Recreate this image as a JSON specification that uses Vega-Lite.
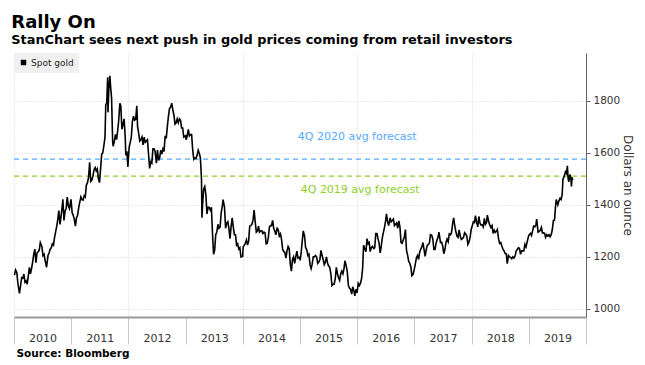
{
"$schema": "https://vega.github.io/schema/vega-lite/v6.json",
"autosize": {"type": "none"},
"padding": {"left": 14, "top": 53, "right": 59, "bottom": 48},
"width": 572,
"height": 264,
"config": {"font": "DejaVu Sans", "view": {"stroke": null}},
"title": {"text": "Rally On", "subtitle": "StanChart sees next push in gold prices coming from retail investors", "anchor": "start", "fontSize": 18, "fontWeight": "bold", "color": "#000", "subtitleFontSize": 12.9, "subtitleFontWeight": "bold", "subtitleColor": "#000", "offset": 6, "subtitlePadding": 2},
"datasets": {
"gold": [
{"d":"2010-01-04","v":1130},{"d":"2010-01-11","v":1150},{"d":"2010-01-19","v":1140},{"d":"2010-01-26","v":1097},{"d":"2010-02-05","v":1060},{"d":"2010-02-12","v":1090},{"d":"2010-02-19","v":1120},{"d":"2010-02-26","v":1118},{"d":"2010-03-05","v":1134},{"d":"2010-03-12","v":1103},{"d":"2010-03-19","v":1108},{"d":"2010-03-26","v":1095},{"d":"2010-04-02","v":1125},{"d":"2010-04-09","v":1160},{"d":"2010-04-16","v":1135},{"d":"2010-04-23","v":1155},{"d":"2010-04-30","v":1180},{"d":"2010-05-07","v":1210},{"d":"2010-05-14","v":1230},{"d":"2010-05-21","v":1178},{"d":"2010-05-28","v":1215},{"d":"2010-06-04","v":1220},{"d":"2010-06-11","v":1225},{"d":"2010-06-18","v":1255},{"d":"2010-06-28","v":1240},{"d":"2010-07-05","v":1205},{"d":"2010-07-12","v":1210},{"d":"2010-07-19","v":1185},{"d":"2010-07-28","v":1160},{"d":"2010-08-06","v":1205},{"d":"2010-08-13","v":1215},{"d":"2010-08-20","v":1230},{"d":"2010-08-27","v":1235},{"d":"2010-09-03","v":1250},{"d":"2010-09-10","v":1245},{"d":"2010-09-17","v":1275},{"d":"2010-09-24","v":1297},{"d":"2010-10-01","v":1318},{"d":"2010-10-08","v":1345},{"d":"2010-10-14","v":1378},{"d":"2010-10-22","v":1325},{"d":"2010-10-29","v":1358},{"d":"2010-11-05","v":1395},{"d":"2010-11-09","v":1421},{"d":"2010-11-16","v":1340},{"d":"2010-11-23","v":1375},{"d":"2010-11-30","v":1386},{"d":"2010-12-07","v":1430},{"d":"2010-12-14","v":1395},{"d":"2010-12-21","v":1385},{"d":"2010-12-31","v":1421},
{"d":"2011-01-07","v":1370},{"d":"2011-01-14","v":1360},{"d":"2011-01-21","v":1345},{"d":"2011-01-28","v":1318},{"d":"2011-02-04","v":1350},{"d":"2011-02-11","v":1360},{"d":"2011-02-18","v":1388},{"d":"2011-02-25","v":1410},{"d":"2011-03-04","v":1430},{"d":"2011-03-11","v":1420},{"d":"2011-03-18","v":1418},{"d":"2011-03-25","v":1435},{"d":"2011-04-01","v":1430},{"d":"2011-04-08","v":1475},{"d":"2011-04-15","v":1485},{"d":"2011-04-22","v":1505},{"d":"2011-04-29","v":1563},{"d":"2011-05-06","v":1490},{"d":"2011-05-13","v":1495},{"d":"2011-05-20","v":1510},{"d":"2011-05-27","v":1535},{"d":"2011-06-03","v":1543},{"d":"2011-06-10","v":1530},{"d":"2011-06-17","v":1538},{"d":"2011-06-24","v":1500},{"d":"2011-07-01","v":1485},{"d":"2011-07-08","v":1540},{"d":"2011-07-15","v":1595},{"d":"2011-07-22","v":1600},{"d":"2011-07-29","v":1628},{"d":"2011-08-05","v":1660},{"d":"2011-08-10","v":1785},{"d":"2011-08-16","v":1790},{"d":"2011-08-22","v":1890},{"d":"2011-08-24","v":1755},{"d":"2011-08-29","v":1835},{"d":"2011-09-05","v":1895},{"d":"2011-09-09","v":1860},{"d":"2011-09-16","v":1810},{"d":"2011-09-23","v":1640},{"d":"2011-09-26","v":1625},{"d":"2011-10-04","v":1645},{"d":"2011-10-11","v":1670},{"d":"2011-10-18","v":1650},{"d":"2011-10-24","v":1680},{"d":"2011-10-31","v":1720},{"d":"2011-11-08","v":1790},{"d":"2011-11-14","v":1780},{"d":"2011-11-21","v":1690},{"d":"2011-11-28","v":1710},{"d":"2011-12-05","v":1730},{"d":"2011-12-12","v":1660},{"d":"2011-12-16","v":1590},{"d":"2011-12-23","v":1605},{"d":"2011-12-29","v":1545},
{"d":"2012-01-06","v":1620},{"d":"2012-01-13","v":1640},{"d":"2012-01-20","v":1660},{"d":"2012-01-27","v":1720},{"d":"2012-02-03","v":1740},{"d":"2012-02-10","v":1725},{"d":"2012-02-17","v":1728},{"d":"2012-02-24","v":1780},{"d":"2012-02-29","v":1700},{"d":"2012-03-07","v":1675},{"d":"2012-03-14","v":1645},{"d":"2012-03-21","v":1650},{"d":"2012-03-28","v":1660},{"d":"2012-04-04","v":1630},{"d":"2012-04-11","v":1660},{"d":"2012-04-18","v":1640},{"d":"2012-04-25","v":1645},{"d":"2012-05-02","v":1650},{"d":"2012-05-09","v":1595},{"d":"2012-05-16","v":1540},{"d":"2012-05-23","v":1565},{"d":"2012-05-30","v":1560},{"d":"2012-06-06","v":1615},{"d":"2012-06-13","v":1615},{"d":"2012-06-20","v":1605},{"d":"2012-06-28","v":1560},{"d":"2012-07-05","v":1610},{"d":"2012-07-12","v":1570},{"d":"2012-07-19","v":1580},{"d":"2012-07-26","v":1610},{"d":"2012-08-02","v":1595},{"d":"2012-08-09","v":1615},{"d":"2012-08-16","v":1605},{"d":"2012-08-23","v":1665},{"d":"2012-08-30","v":1655},{"d":"2012-09-06","v":1700},{"d":"2012-09-13","v":1740},{"d":"2012-09-20","v":1770},{"d":"2012-09-27","v":1775},{"d":"2012-10-04","v":1790},{"d":"2012-10-11","v":1765},{"d":"2012-10-18","v":1745},{"d":"2012-10-25","v":1710},{"d":"2012-11-01","v":1715},{"d":"2012-11-08","v":1730},{"d":"2012-11-15","v":1715},{"d":"2012-11-22","v":1730},{"d":"2012-11-29","v":1725},{"d":"2012-12-06","v":1695},{"d":"2012-12-13","v":1695},{"d":"2012-12-20","v":1660},{"d":"2012-12-31","v":1665},
{"d":"2013-01-04","v":1650},{"d":"2013-01-11","v":1665},{"d":"2013-01-18","v":1690},{"d":"2013-01-25","v":1665},{"d":"2013-02-01","v":1670},{"d":"2013-02-08","v":1670},{"d":"2013-02-15","v":1610},{"d":"2013-02-22","v":1575},{"d":"2013-03-01","v":1580},{"d":"2013-03-08","v":1578},{"d":"2013-03-15","v":1590},{"d":"2013-03-22","v":1610},{"d":"2013-03-29","v":1598},{"d":"2013-04-05","v":1580},{"d":"2013-04-12","v":1500},{"d":"2013-04-15","v":1350},{"d":"2013-04-19","v":1400},{"d":"2013-04-26","v":1460},{"d":"2013-05-03","v":1470},{"d":"2013-05-10","v":1440},{"d":"2013-05-17","v":1365},{"d":"2013-05-24","v":1390},{"d":"2013-05-31","v":1390},{"d":"2013-06-07","v":1380},{"d":"2013-06-14","v":1390},{"d":"2013-06-21","v":1295},{"d":"2013-06-28","v":1210},{"d":"2013-07-05","v":1225},{"d":"2013-07-12","v":1285},{"d":"2013-07-19","v":1295},{"d":"2013-07-26","v":1325},{"d":"2013-08-02","v":1310},{"d":"2013-08-09","v":1315},{"d":"2013-08-16","v":1370},{"d":"2013-08-23","v":1395},{"d":"2013-08-28","v":1420},{"d":"2013-09-06","v":1390},{"d":"2013-09-13","v":1310},{"d":"2013-09-20","v":1330},{"d":"2013-09-27","v":1335},{"d":"2013-10-04","v":1310},{"d":"2013-10-11","v":1270},{"d":"2013-10-18","v":1315},{"d":"2013-10-25","v":1350},{"d":"2013-11-01","v":1315},{"d":"2013-11-08","v":1285},{"d":"2013-11-15","v":1285},{"d":"2013-11-22","v":1245},{"d":"2013-11-29","v":1250},{"d":"2013-12-06","v":1230},{"d":"2013-12-13","v":1235},{"d":"2013-12-20","v":1200},{"d":"2013-12-31","v":1202},
{"d":"2014-01-03","v":1238},{"d":"2014-01-10","v":1245},{"d":"2014-01-17","v":1252},{"d":"2014-01-24","v":1265},{"d":"2014-01-31","v":1245},{"d":"2014-02-07","v":1260},{"d":"2014-02-14","v":1318},{"d":"2014-02-21","v":1320},{"d":"2014-02-28","v":1325},{"d":"2014-03-07","v":1340},{"d":"2014-03-14","v":1380},{"d":"2014-03-21","v":1335},{"d":"2014-03-28","v":1295},{"d":"2014-04-04","v":1300},{"d":"2014-04-11","v":1318},{"d":"2014-04-17","v":1295},{"d":"2014-04-25","v":1300},{"d":"2014-05-02","v":1300},{"d":"2014-05-09","v":1290},{"d":"2014-05-16","v":1295},{"d":"2014-05-23","v":1292},{"d":"2014-05-30","v":1250},{"d":"2014-06-06","v":1252},{"d":"2014-06-13","v":1275},{"d":"2014-06-20","v":1315},{"d":"2014-06-27","v":1320},{"d":"2014-07-03","v":1320},{"d":"2014-07-10","v":1340},{"d":"2014-07-17","v":1310},{"d":"2014-07-24","v":1300},{"d":"2014-07-31","v":1285},{"d":"2014-08-08","v":1310},{"d":"2014-08-15","v":1305},{"d":"2014-08-22","v":1280},{"d":"2014-08-29","v":1288},{"d":"2014-09-05","v":1268},{"d":"2014-09-12","v":1230},{"d":"2014-09-19","v":1220},{"d":"2014-09-26","v":1218},{"d":"2014-10-03","v":1195},{"d":"2014-10-10","v":1222},{"d":"2014-10-17","v":1240},{"d":"2014-10-24","v":1232},{"d":"2014-10-31","v":1172},{"d":"2014-11-07","v":1145},{"d":"2014-11-14","v":1190},{"d":"2014-11-21","v":1200},{"d":"2014-11-28","v":1175},{"d":"2014-12-05","v":1200},{"d":"2014-12-12","v":1222},{"d":"2014-12-19","v":1195},{"d":"2014-12-31","v":1199},
{"d":"2015-01-02","v":1186},{"d":"2015-01-09","v":1220},{"d":"2015-01-16","v":1265},{"d":"2015-01-22","v":1300},{"d":"2015-01-30","v":1280},{"d":"2015-02-06","v":1235},{"d":"2015-02-13","v":1228},{"d":"2015-02-20","v":1205},{"d":"2015-02-27","v":1210},{"d":"2015-03-06","v":1170},{"d":"2015-03-13","v":1155},{"d":"2015-03-19","v":1170},{"d":"2015-03-27","v":1200},{"d":"2015-04-02","v":1200},{"d":"2015-04-10","v":1205},{"d":"2015-04-17","v":1200},{"d":"2015-04-24","v":1175},{"d":"2015-05-01","v":1180},{"d":"2015-05-08","v":1190},{"d":"2015-05-15","v":1225},{"d":"2015-05-22","v":1205},{"d":"2015-05-29","v":1190},{"d":"2015-06-05","v":1170},{"d":"2015-06-12","v":1180},{"d":"2015-06-19","v":1200},{"d":"2015-06-26","v":1175},{"d":"2015-07-03","v":1165},{"d":"2015-07-10","v":1160},{"d":"2015-07-17","v":1135},{"d":"2015-07-24","v":1090},{"d":"2015-07-31","v":1095},{"d":"2015-08-07","v":1095},{"d":"2015-08-14","v":1115},{"d":"2015-08-21","v":1160},{"d":"2015-08-28","v":1135},{"d":"2015-09-04","v":1120},{"d":"2015-09-11","v":1110},{"d":"2015-09-18","v":1135},{"d":"2015-09-25","v":1145},{"d":"2015-10-02","v":1135},{"d":"2015-10-09","v":1155},{"d":"2015-10-15","v":1185},{"d":"2015-10-23","v":1165},{"d":"2015-10-30","v":1142},{"d":"2015-11-06","v":1090},{"d":"2015-11-13","v":1080},{"d":"2015-11-20","v":1075},{"d":"2015-11-27","v":1057},{"d":"2015-12-04","v":1085},{"d":"2015-12-11","v":1070},{"d":"2015-12-17","v":1050},{"d":"2015-12-24","v":1075},{"d":"2015-12-31","v":1062},
{"d":"2016-01-08","v":1098},{"d":"2016-01-15","v":1090},{"d":"2016-01-22","v":1098},{"d":"2016-01-29","v":1116},{"d":"2016-02-05","v":1157},{"d":"2016-02-11","v":1245},{"d":"2016-02-19","v":1230},{"d":"2016-02-26","v":1220},{"d":"2016-03-04","v":1270},{"d":"2016-03-11","v":1250},{"d":"2016-03-18","v":1255},{"d":"2016-03-24","v":1220},{"d":"2016-03-31","v":1235},{"d":"2016-04-08","v":1240},{"d":"2016-04-15","v":1232},{"d":"2016-04-22","v":1235},{"d":"2016-04-29","v":1290},{"d":"2016-05-06","v":1290},{"d":"2016-05-13","v":1270},{"d":"2016-05-20","v":1252},{"d":"2016-05-27","v":1215},{"d":"2016-06-03","v":1242},{"d":"2016-06-10","v":1275},{"d":"2016-06-17","v":1295},{"d":"2016-06-24","v":1315},{"d":"2016-07-01","v":1340},{"d":"2016-07-06","v":1365},{"d":"2016-07-13","v":1335},{"d":"2016-07-20","v":1320},{"d":"2016-07-29","v":1350},{"d":"2016-08-05","v":1335},{"d":"2016-08-12","v":1340},{"d":"2016-08-19","v":1345},{"d":"2016-08-26","v":1320},{"d":"2016-09-02","v":1325},{"d":"2016-09-09","v":1330},{"d":"2016-09-16","v":1310},{"d":"2016-09-23","v":1338},{"d":"2016-09-30","v":1315},{"d":"2016-10-07","v":1255},{"d":"2016-10-14","v":1252},{"d":"2016-10-21","v":1265},{"d":"2016-10-28","v":1275},{"d":"2016-11-04","v":1305},{"d":"2016-11-11","v":1225},{"d":"2016-11-18","v":1207},{"d":"2016-11-25","v":1183},{"d":"2016-12-02","v":1175},{"d":"2016-12-09","v":1160},{"d":"2016-12-15","v":1128},{"d":"2016-12-23","v":1133},{"d":"2016-12-30","v":1150},
{"d":"2017-01-06","v":1172},{"d":"2017-01-13","v":1196},{"d":"2017-01-20","v":1205},{"d":"2017-01-27","v":1190},{"d":"2017-02-03","v":1218},{"d":"2017-02-10","v":1230},{"d":"2017-02-17","v":1238},{"d":"2017-02-24","v":1255},{"d":"2017-03-03","v":1228},{"d":"2017-03-10","v":1202},{"d":"2017-03-17","v":1228},{"d":"2017-03-24","v":1245},{"d":"2017-03-31","v":1248},{"d":"2017-04-07","v":1255},{"d":"2017-04-13","v":1285},{"d":"2017-04-21","v":1283},{"d":"2017-04-28","v":1268},{"d":"2017-05-05","v":1228},{"d":"2017-05-12","v":1228},{"d":"2017-05-19","v":1253},{"d":"2017-05-26","v":1267},{"d":"2017-06-02","v":1280},{"d":"2017-06-06","v":1295},{"d":"2017-06-16","v":1255},{"d":"2017-06-23","v":1256},{"d":"2017-06-30","v":1242},{"d":"2017-07-07","v":1212},{"d":"2017-07-14","v":1228},{"d":"2017-07-21","v":1255},{"d":"2017-07-28","v":1268},{"d":"2017-08-04","v":1258},{"d":"2017-08-11","v":1288},{"d":"2017-08-18","v":1285},{"d":"2017-08-25","v":1292},{"d":"2017-09-01","v":1325},{"d":"2017-09-08","v":1350},{"d":"2017-09-15","v":1320},{"d":"2017-09-22","v":1297},{"d":"2017-09-29","v":1280},{"d":"2017-10-06","v":1275},{"d":"2017-10-13","v":1304},{"d":"2017-10-20","v":1280},{"d":"2017-10-27","v":1267},{"d":"2017-11-03","v":1270},{"d":"2017-11-10","v":1275},{"d":"2017-11-17","v":1293},{"d":"2017-11-24","v":1288},{"d":"2017-12-01","v":1280},{"d":"2017-12-08","v":1248},{"d":"2017-12-15","v":1257},{"d":"2017-12-22","v":1275},{"d":"2017-12-29","v":1305},
{"d":"2018-01-05","v":1320},{"d":"2018-01-12","v":1335},{"d":"2018-01-19","v":1332},{"d":"2018-01-25","v":1358},{"d":"2018-02-02","v":1333},{"d":"2018-02-09","v":1315},{"d":"2018-02-16","v":1355},{"d":"2018-02-23","v":1330},{"d":"2018-03-02","v":1322},{"d":"2018-03-09","v":1323},{"d":"2018-03-16","v":1315},{"d":"2018-03-23","v":1348},{"d":"2018-03-30","v":1325},{"d":"2018-04-06","v":1332},{"d":"2018-04-11","v":1360},{"d":"2018-04-20","v":1335},{"d":"2018-04-27","v":1322},{"d":"2018-05-04","v":1313},{"d":"2018-05-11","v":1320},{"d":"2018-05-18","v":1290},{"d":"2018-05-25","v":1302},{"d":"2018-06-01","v":1294},{"d":"2018-06-08","v":1298},{"d":"2018-06-14","v":1305},{"d":"2018-06-22","v":1268},{"d":"2018-06-29","v":1252},{"d":"2018-07-06","v":1255},{"d":"2018-07-13","v":1241},{"d":"2018-07-20","v":1230},{"d":"2018-07-27","v":1223},{"d":"2018-08-03","v":1213},{"d":"2018-08-10","v":1212},{"d":"2018-08-16","v":1174},{"d":"2018-08-24","v":1205},{"d":"2018-08-31","v":1200},{"d":"2018-09-07","v":1198},{"d":"2018-09-14","v":1193},{"d":"2018-09-21","v":1200},{"d":"2018-09-28","v":1195},{"d":"2018-10-05","v":1203},{"d":"2018-10-12","v":1222},{"d":"2018-10-19","v":1228},{"d":"2018-10-26","v":1235},{"d":"2018-11-02","v":1233},{"d":"2018-11-09","v":1210},{"d":"2018-11-16","v":1223},{"d":"2018-11-23","v":1223},{"d":"2018-11-30","v":1223},{"d":"2018-12-07","v":1248},{"d":"2018-12-14","v":1238},{"d":"2018-12-21","v":1257},{"d":"2018-12-31","v":1282},
{"d":"2019-01-04","v":1285},{"d":"2019-01-11","v":1290},{"d":"2019-01-18","v":1282},{"d":"2019-01-25","v":1300},{"d":"2019-02-01","v":1318},{"d":"2019-02-08","v":1315},{"d":"2019-02-15","v":1322},{"d":"2019-02-20","v":1345},{"d":"2019-03-01","v":1295},{"d":"2019-03-08","v":1298},{"d":"2019-03-15","v":1302},{"d":"2019-03-22","v":1313},{"d":"2019-03-29","v":1292},{"d":"2019-04-05","v":1292},{"d":"2019-04-12","v":1290},{"d":"2019-04-18","v":1275},{"d":"2019-04-26","v":1285},{"d":"2019-05-03","v":1280},{"d":"2019-05-10","v":1285},{"d":"2019-05-17","v":1277},{"d":"2019-05-24","v":1285},{"d":"2019-05-31","v":1305},{"d":"2019-06-07","v":1340},{"d":"2019-06-14","v":1341},{"d":"2019-06-20","v":1390},{"d":"2019-06-25","v":1420},{"d":"2019-07-05","v":1400},{"d":"2019-07-12","v":1415},{"d":"2019-07-19","v":1425},{"d":"2019-07-26","v":1420},{"d":"2019-08-02","v":1440},{"d":"2019-08-07","v":1500},{"d":"2019-08-13","v":1505},{"d":"2019-08-16","v":1513},{"d":"2019-08-23","v":1527},{"d":"2019-08-30","v":1520},{"d":"2019-09-04","v":1550},{"d":"2019-09-09","v":1500},{"d":"2019-09-13","v":1488},{"d":"2019-09-20","v":1516},{"d":"2019-09-26","v":1505},{"d":"2019-09-30","v":1470},{"d":"2019-10-04","v":1505},{"d":"2019-10-08","v":1495}
],
"fc": [
{"lab": "4Q 2020 avg forecast", "d": "2016-01-01", "v": 1575},
{"lab": "4Q 2019 avg forecast", "d": "2016-01-20", "v": 1510}
]
},
"layer": [
{
"data": {"name": "fc"},
"transform": [{"filter": "datum.lab == '4Q 2020 avg forecast'"}],
"mark": {"type": "rule", "color": "#55aaff", "strokeDash": [5, 4], "strokeWidth": 1.2},
"encoding": {"y": {"field": "v", "type": "quantitative"}}
},
{
"data": {"name": "fc"},
"transform": [{"filter": "datum.lab == '4Q 2019 avg forecast'"}],
"mark": {"type": "rule", "color": "#8fd11f", "strokeDash": [5, 4], "strokeWidth": 1.2},
"encoding": {"y": {"field": "v", "type": "quantitative"}}
},
{
"data": {"name": "fc"},
"transform": [{"filter": "datum.lab == '4Q 2020 avg forecast'"}],
"mark": {"type": "text", "color": "#55aaff", "fontSize": 11, "dy": -22, "align": "center", "baseline": "middle"},
"encoding": {"x": {"field": "d", "type": "temporal"}, "y": {"field": "v", "type": "quantitative"}, "text": {"field": "lab"}}
},
{
"data": {"name": "fc"},
"transform": [{"filter": "datum.lab == '4Q 2019 avg forecast'"}],
"mark": {"type": "text", "color": "#8fd11f", "fontSize": 11, "dy": 14, "align": "center", "baseline": "middle"},
"encoding": {"x": {"field": "d", "type": "temporal"}, "y": {"field": "v", "type": "quantitative"}, "text": {"field": "lab"}}
},
{
"data": {"name": "gold"},
"mark": {"type": "line", "strokeWidth": 1.6, "interpolate": "linear"},
"encoding": {
"x": {"field": "d", "type": "temporal",
"scale": {"type": "utc", "domain": [{"year": 2010, "month": 1, "date": 1, "utc": true}, {"year": 2020, "month": 1, "date": 1, "utc": true}]},
"axis": {
"values": [{"year": 2010, "month": 1, "date": 1, "utc": true},{"year": 2011, "month": 1, "date": 1, "utc": true},{"year": 2012, "month": 1, "date": 1, "utc": true},{"year": 2013, "month": 1, "date": 1, "utc": true},{"year": 2014, "month": 1, "date": 1, "utc": true},{"year": 2015, "month": 1, "date": 1, "utc": true},{"year": 2016, "month": 1, "date": 1, "utc": true},{"year": 2017, "month": 1, "date": 1, "utc": true},{"year": 2018, "month": 1, "date": 1, "utc": true},{"year": 2019, "month": 1, "date": 1, "utc": true},{"year": 2020, "month": 1, "date": 1, "utc": true}],
"labelExpr": "utcyear(datum.value) == 2020 ? '' : utcFormat(datum.value, '%Y')",
"labelOffset": 28.6,
"labelAlign": "center",
"labelFontSize": 11,
"labelColor": "#333",
"labelPadding": -12,
"tickSize": 27,
"tickColor": "#c8c8c8",
"domainColor": "#999",
"domainWidth": 2,
"grid": true,
"gridDash": [1, 2],
"gridColor": {"condition": {"test": "utcyear(datum.value) % 2 == 0", "value": "#d4d4d4"}, "value": "transparent"},
"title": "Source: Bloomberg",
"titleFontSize": 10.5,
"titleFontWeight": "bold",
"titleColor": "#000",
"titleAnchor": "start",
"titleAlign": "left",
"titleBaseline": "middle",
"titleX": 2,
"titleY": 36
}
},
"y": {"field": "v", "type": "quantitative",
"scale": {"domain": [969, 1983], "nice": false, "zero": false},
"axis": {
"orient": "right",
"values": [1000, 1100, 1200, 1300, 1400, 1500, 1600, 1700, 1800, 1900],
"labelExpr": "datum.value % 200 == 0 ? datum.value : ''",
"labelFontSize": 10.5,
"labelColor": "#333",
"labelPadding": 3,
"tickSize": 4,
"tickColor": "#666",
"domainColor": "#666",
"grid": true,
"gridDash": [1, 2],
"gridColor": {"condition": {"test": "datum.value % 200 == 0", "value": "#d4d4d4"}, "value": "transparent"},
"title": "Dollars an ounce",
"titleFontSize": 12,
"titleFontWeight": "normal",
"titleColor": "#333",
"titlePadding": 1
}
},
"color": {"datum": "Spot gold", "type": "nominal",
"scale": {"range": ["#000000"]},
"legend": {"title": null, "orient": "top-left", "offset": 0, "padding": 5, "fillColor": "#f0f0f0", "symbolType": "square", "symbolSize": 30, "symbolFillColor": "#000", "symbolStrokeWidth": 0, "labelFontSize": 9, "labelColor": "#222", "labelOffset": 3, "labelLimit": 60}
}
}
}
]
}
